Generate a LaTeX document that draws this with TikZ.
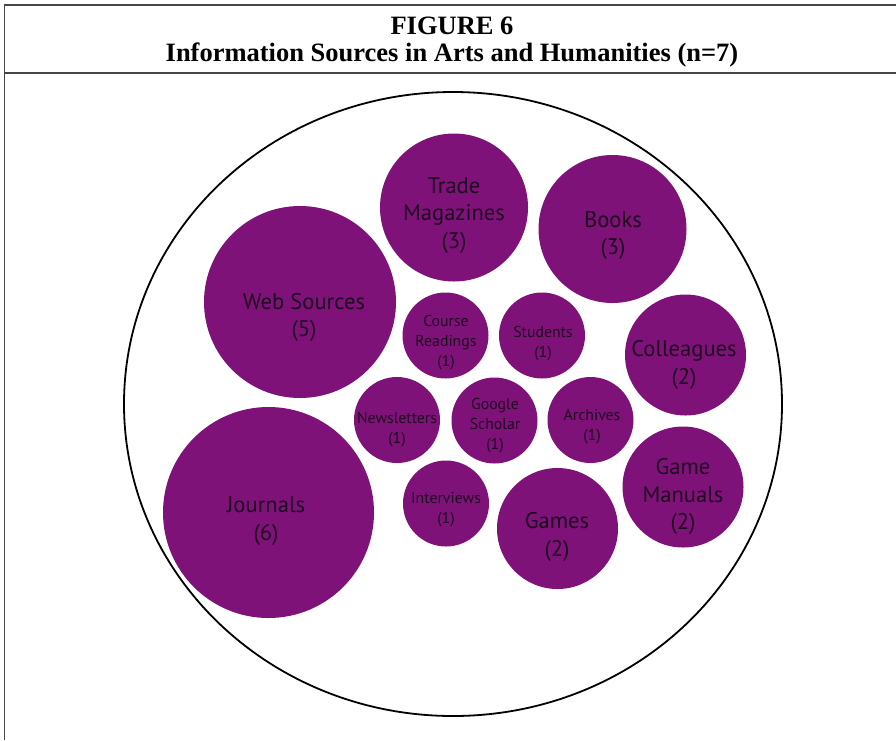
\documentclass[tikz,border=0pt]{standalone}
\usepackage{fontspec}
\usetikzlibrary{shapes.geometric}
\setmainfont{Liberation Serif}
\newfontfamily\bubfont{PT Sans}
\definecolor{bub}{RGB}{126,18,121}
\definecolor{bubtext}{RGB}{30,8,30}
\definecolor{framegray}{RGB}{70,70,70}
\begin{document}
\begin{tikzpicture}[x=1pt,y=-1pt,
  bubble/.style={circle,fill=bub,draw=none,inner sep=0pt,minimum size=#1},
  bigtxt/.style={text=bubtext,font=\bubfont\fontsize{22.6}{27.5}\selectfont,align=center,inner sep=0pt},
  smalltxt/.style={text=bubtext,font=\bubfont\fontsize{15.8}{20}\selectfont,align=center,inner sep=0pt},
  frameline/.style={draw=framegray,line width=2pt},
  titletxt/.style={font=\bfseries\fontsize{26.5}{27}\selectfont,align=center,inner sep=0pt}]
\useasboundingbox (0,0) rectangle (896,740);
% frame
\draw[frameline,line width=1.5pt] (4.5,740) -- (4.5,5);
\draw[frameline] (3.75,5) -- (896,5);
\draw[frameline] (4.5,72.7) -- (896,72.7);
\node[titletxt] (title) at (452,42.5) {FIGURE 6\\Information Sources in Arts and Humanities (n=7)};
% big enclosing circle
\node[ellipse,draw=black,line width=1.8pt,minimum width=658pt,minimum height=624pt,inner sep=0pt] (outer) at (453,404) {};
% bubbles
\node[bubble=192pt] (web) at (300,302) {};
\node[bubble=211pt] (jour) at (268.5,512.5) {};
\node[bubble=148pt] (trade) at (454,207.5) {};
\node[bubble=148pt] (books) at (612.5,229) {};
\node[bubble=121pt] (coll) at (685.5,355) {};
\node[bubble=121pt] (gman) at (683,487) {};
\node[bubble=121pt] (games) at (557.5,528.5) {};
\node[bubble=86pt] (interv) at (446,503.5) {};
\node[bubble=86pt] (course) at (445.5,335.5) {};
\node[bubble=86pt] (stud) at (542,335.5) {};
\node[bubble=86pt] (news) at (397,420) {};
\node[bubble=86pt] (goog) at (494.5,420.5) {};
\node[bubble=86pt] (arch) at (590.5,420) {};
% labels
\node[bigtxt] (webT) at (304,317.5) {Web Sources\\(5)};
\node[bigtxt] (jourT) at (266,521) {Journals\\(6)};
\node[bigtxt] (tradeT) at (454,215.5) {Trade\\Magazines\\(3)};
\node[bigtxt] (booksT) at (613,235.5) {Books\\(3)};
\node[bigtxt] (collT) at (684,365) {Colleagues\\(2)};
\node[bigtxt] (gmanT) at (683,496.5) {Game\\Manuals\\(2)};
\node[bigtxt] (gamesT) at (557,537) {Games\\(2)};
\node[smalltxt] (intervT) at (446,510) {Interviews\\(1)};
\node[smalltxt] (courseT) at (446,343) {Course\\Readings\\(1)};
\node[smalltxt] (studT) at (543,344) {Students\\(1)};
\node[smalltxt] (newsT) at (397,430) {Newsletters\\(1)};
\node[smalltxt] (googT) at (495,426) {Google\\Scholar\\(1)};
\node[smalltxt] (archT) at (592,427) {Archives\\(1)};
\end{tikzpicture}
\end{document}
